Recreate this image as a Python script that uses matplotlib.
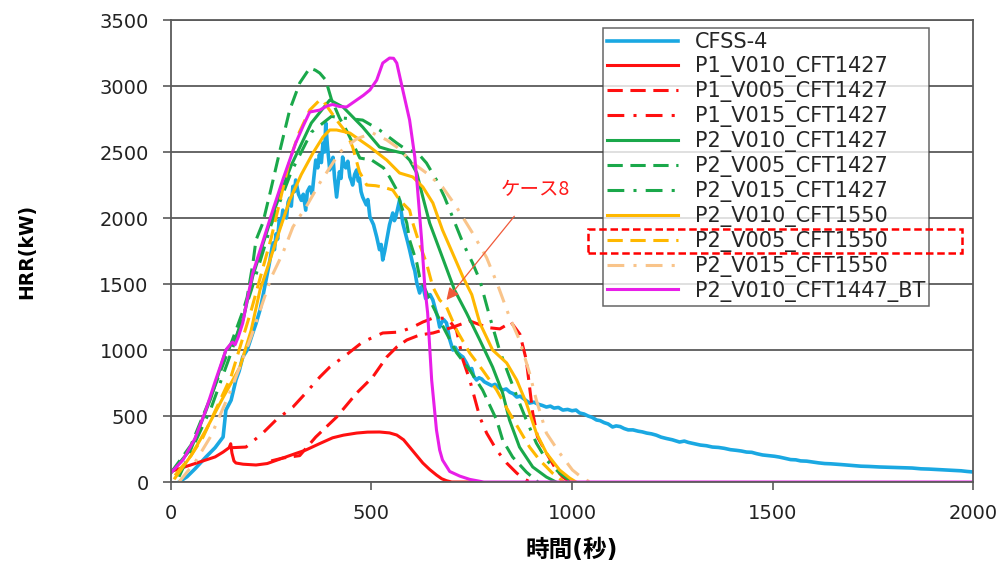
import matplotlib
matplotlib.use("Agg")
import matplotlib.pyplot as plt
from matplotlib.patches import Rectangle

plt.rcParams['font.family'] = ['DejaVu Sans', 'Noto Sans CJK JP']

# --- data (time [s], HRR [kW]) ---
cfss_t = [20, 40, 60, 87, 110, 130, 137, 150, 162, 170, 179, 190, 204, 212, 222, 230, 237, 245, 254, 258, 262,
          266, 270, 274, 279, 284, 288, 292, 296, 300, 304, 308, 311, 318, 325, 330, 336, 340, 346, 352, 356, 361,
          366, 370, 375, 379, 383, 386, 390, 396, 400, 404, 408, 413, 420, 424, 428, 432, 436, 441, 446, 450, 453,
          458, 463, 467, 470, 474, 478, 487, 491, 496, 505, 513, 520, 524, 528, 533, 538, 545, 553, 557, 560,
          566, 570, 574, 578, 585, 590, 595, 603, 608, 613, 620, 625, 630, 635, 640, 646, 653, 660, 665, 670,
          675, 680, 687, 695, 703, 709, 715, 722, 728, 737, 745, 750, 755, 762, 768, 775, 781, 787, 800, 808,
          815, 827, 836, 845, 853, 862, 871, 880, 894, 905, 915, 926, 936, 946, 955, 966, 977, 989, 1000, 1010,
          1019, 1030, 1040, 1050, 1061, 1070, 1080, 1090, 1101, 1110, 1120, 1130, 1140, 1152, 1165, 1175, 1186, 1198,
          1210, 1222, 1235, 1250, 1268, 1280, 1290, 1305, 1320, 1335, 1350, 1365, 1380, 1395, 1410, 1422, 1435, 1448,
          1460, 1475, 1490, 1505, 1517, 1530, 1545, 1558, 1570, 1585, 1599, 1615, 1630, 1645, 1660, 1672, 1684, 1700,
          1720, 1740, 1766, 1785, 1800, 1825, 1848, 1870, 1890, 1910, 1933, 1950, 1970, 1985, 2000]
cfss_v = [0, 40, 100, 189, 260, 341, 545, 620, 773, 840, 947, 1000, 1129, 1200, 1303, 1420, 1530, 1650, 1811, 1760, 1880,
          1840, 1990, 1950, 2060, 2010, 2000, 2120, 2150, 2090, 2240, 2200, 2288, 2180, 2134, 2180, 2060, 2200, 2235, 2180, 2300, 2439,
          2380, 2480, 2420, 2568, 2500, 2720, 2550, 2364, 2420, 2460, 2300, 2159, 2350, 2300, 2462, 2400, 2380, 2430, 2311, 2280, 2250,
          2330, 2364, 2280, 2300, 2200, 2159, 2100, 2140, 2008, 1950, 1856, 1760, 1800, 1682, 1750, 1833, 1950, 2038, 1980, 2000,
          2080, 2136, 2050, 1962, 1880, 1820, 1758, 1650, 1600, 1508, 1432, 1480, 1460, 1390, 1400, 1420, 1379, 1300, 1250, 1174,
          1210, 1230, 1205, 1080, 1000, 1020, 980, 960, 947, 900, 848, 860, 800, 773, 790, 780, 760, 750, 730, 740,
          720, 697, 705, 680, 670, 644, 650, 630, 598, 605, 590, 580, 568, 575, 560, 565, 545, 550, 540, 545,
          523, 515, 500, 490, 470, 465, 450, 440, 417, 425, 420, 405, 395, 395, 385, 380, 371, 365,
          355, 340, 330, 320, 303, 310, 300, 290, 280, 275, 265, 262, 255, 245, 240, 235, 227, 225,
          215, 205, 200, 195, 189, 180, 170, 168, 160, 158, 152, 145, 140, 138, 135, 132, 129, 125,
          120, 118, 114, 112, 110, 108, 106, 100, 98, 95, 91, 88, 85, 80, 76]

p1_v010_t = [0, 30, 60, 87, 110, 130, 145, 149, 152, 157, 162, 180, 212, 240, 279, 310, 336, 370, 403, 430,
             463, 490, 520, 545, 563, 580, 595, 610, 628, 645, 662, 675, 687, 700, 760]
p1_v010_v = [80, 110, 140, 167, 190, 227, 260, 290, 220, 160, 144, 135, 129, 140, 182, 215, 242, 290, 335, 355,
             371, 378, 379, 372, 356, 320, 265, 210, 144, 95, 53, 25, 10, 0, 0]

p1_v005_t = [250, 279, 321, 361, 413, 463, 503, 538, 563, 588, 620, 653, 700, 745, 790, 820, 848, 870, 886, 902,
             914, 936, 961, 977, 995]
p1_v005_v = [160, 182, 200, 341, 492, 674, 795, 947, 1023, 1076, 1114, 1129, 1170, 1220, 1170, 1160, 1210, 1120, 924, 523,
             341, 220, 91, 38, 0]

p1_v015_t = [150, 187, 229, 262, 304, 336, 371, 396, 440, 478, 528, 570, 603, 628, 653, 690, 712, 728, 745, 770,
             787, 812, 837, 862, 877, 895]
p1_v015_v = [260, 265, 371, 470, 568, 674, 795, 871, 970, 1061, 1129, 1136, 1174, 1212, 1242, 1240, 1150, 924, 773, 492,
             371, 242, 144, 68, 30, 0]

p2_v010_t = [0, 50, 100, 137, 160, 180, 204, 250, 300, 350, 396, 429, 478, 520, 545, 578, 595, 613, 628, 645,
             670, 695, 707, 737, 770, 802, 827, 844, 869, 902, 936, 960]
p2_v010_v = [70, 250, 640, 1000, 1080, 1230, 1560, 2000, 2400, 2720, 2894, 2841, 2689, 2538, 2515, 2492, 2439, 2341, 2159, 1962,
             1758, 1553, 1455, 1280, 1076, 871, 674, 470, 265, 114, 38, 0]

p2_v005_t = [0, 50, 100, 150, 180, 190, 204, 212, 229, 247, 272, 296, 321, 346, 360, 371, 386, 400, 420, 440,
             471, 500, 530, 545, 563, 570, 588, 595, 613, 620, 650, 683, 712, 745, 777, 812, 827, 852, 886, 915]
p2_v005_v = [70, 280, 650, 1050, 1300, 1400, 1650, 1833, 1962, 2189, 2515, 2818, 3023, 3136, 3120, 3098, 3045, 2900, 2760, 2650,
             2454, 2440, 2380, 2311, 2212, 2136, 1962, 1833, 1659, 1553, 1350, 1150, 980, 848, 697, 470, 318, 189, 76, 0]

p2_v015_t = [20, 100, 150, 200, 250, 300, 350, 400, 421, 478, 520, 563, 588, 613, 637, 662, 682, 702, 728, 752,
             770, 795, 819, 844, 869, 886, 911, 936, 969, 1000]
p2_v015_v = [40, 560, 980, 1450, 1950, 2350, 2650, 2770, 2760, 2742, 2667, 2568, 2515, 2500, 2417, 2288, 2159, 2008, 1811, 1659,
             1530, 1250, 1000, 795, 598, 470, 295, 167, 68, 0]

p2_v010_1550_t = [10, 50, 87, 130, 172, 200, 222, 247, 270, 296, 325, 354, 379, 396, 413, 446, 496, 538, 570, 603,
                  628, 653, 677, 702, 728, 750, 770, 802, 837, 862, 886, 911, 936, 969, 994, 1010]
p2_v010_1550_v = [30, 200, 394, 640, 871, 1150, 1455, 1682, 1900, 2136, 2330, 2492, 2614, 2667, 2667, 2644, 2538, 2439, 2341, 2311,
                  2235, 2114, 1909, 1735, 1553, 1420, 1205, 1000, 902, 773, 598, 371, 220, 91, 30, 0]

p2_v005_1550_t = [10, 50, 80, 150, 200, 250, 296, 320, 346, 371, 379, 395, 413, 438, 453, 470, 488, 510, 528, 553,
                  570, 595, 603, 620, 637, 653, 670, 687, 712, 745, 777, 812, 844, 869, 894, 919, 951, 980]
p2_v005_1550_v = [50, 200, 340, 800, 1300, 1850, 2439, 2650, 2818, 2894, 2890, 2820, 2742, 2644, 2538, 2350, 2250, 2245, 2235, 2212,
                  2136, 2060, 1962, 1800, 1659, 1477, 1379, 1326, 1152, 977, 848, 697, 523, 394, 265, 167, 68, 0]

p2_v015_1550_t = [20, 60, 100, 150, 200, 250, 279, 304, 340, 371, 400, 421, 463, 503, 538, 563, 603, 637, 677, 712,
                  752, 787, 815, 844, 869, 894, 911, 936, 969, 1001, 1026, 1045]
p2_v015_1550_v = [0, 150, 350, 700, 1100, 1550, 1735, 1932, 2100, 2265, 2400, 2500, 2600, 2644, 2591, 2538, 2417, 2341, 2235, 2083,
                  1886, 1700, 1490, 1250, 1076, 826, 621, 371, 220, 91, 30, 0]

bt_t = [0, 30, 60, 87, 110, 137, 150, 154, 160, 168, 179, 190, 204, 230, 254, 280, 311, 330, 346, 371,
        390, 403, 420, 438, 463, 480, 496, 513, 528, 545, 555, 563, 578, 595, 608, 615, 625, 633, 640, 650,
        662, 670, 677, 695, 720, 745, 780, 2000]
bt_v = [70, 167, 330, 545, 760, 1000, 1050, 1060, 1040, 1100, 1204, 1380, 1583, 1830, 2060, 2300, 2568, 2700, 2803, 2818,
        2850, 2860, 2845, 2841, 2894, 2930, 2970, 3045, 3174, 3212, 3210, 3174, 2970, 2742, 2462, 2212, 1833, 1477, 1280, 773,
        394, 242, 167, 80, 45, 20, 0, 0]

labels = ['CFSS-4', 'P1_V010_CFT1427', 'P1_V005_CFT1427', 'P1_V015_CFT1427',
          'P2_V010_CFT1427', 'P2_V005_CFT1427', 'P2_V015_CFT1427',
          'P2_V010_CFT1550', 'P2_V005_CFT1550', 'P2_V015_CFT1550', 'P2_V010_CFT1447_BT']

BLUE = '#1aa8e2'
RED = '#ff1010'
GREEN = '#1aa84a'
ORANGE = '#ffb800'
LIGHT = '#f9c48a'
MAGENTA = '#e81ee8'
DASH = (0, (5, 2.5))
DASHDOT = (0, (5.5, 3, 1, 3))

series = [
    (cfss_t, cfss_v, BLUE, '-', 2.6),
    (p1_v010_t, p1_v010_v, RED, '-', 2.2),
    (p1_v005_t, p1_v005_v, RED, DASH, 2.2),
    (p1_v015_t, p1_v015_v, RED, DASHDOT, 2.2),
    (p2_v010_t, p2_v010_v, GREEN, '-', 2.2),
    (p2_v005_t, p2_v005_v, GREEN, DASH, 2.2),
    (p2_v015_t, p2_v015_v, GREEN, DASHDOT, 2.2),
    (p2_v010_1550_t, p2_v010_1550_v, ORANGE, '-', 2.2),
    (p2_v005_1550_t, p2_v005_1550_v, ORANGE, DASH, 2.2),
    (p2_v015_1550_t, p2_v015_1550_v, LIGHT, DASHDOT, 2.2),
    (bt_t, bt_v, MAGENTA, '-', 2.2),
]

fig = plt.figure(figsize=(10.08, 5.72), dpi=100)
ax = fig.add_axes([0.1696, 0.1573, 0.7958, 0.8077])

for (t, v, c, ls, lw), lab in zip(series, labels):
    ax.plot(t, v, color=c, linestyle=ls, lw=lw, label=lab)

ax.set_xlim(0, 2000)
ax.set_ylim(0, 3500)
ax.set_xticks(range(0, 2001, 500))
ax.set_yticks(range(0, 3501, 500))
ax.yaxis.grid(True, color='#5a5a5a', lw=1.3)
ax.set_axisbelow(True)
for s in ax.spines.values():
    s.set_color('#5a5a5a')
    s.set_linewidth(1.3)
ax.tick_params(direction='out', length=6, width=1.2, color='#5a5a5a', labelsize=14, labelcolor='#222222', pad=10)

ax.set_xlabel('時間(秒)', fontsize=17, fontweight='bold')
ax.set_ylabel('HRR(kW)', fontsize=13.5, fontweight='bold')
ax.yaxis.set_label_coords(-0.168, 0.5)
ax.xaxis.set_label_coords(0.5, -0.122)

# annotation
ax.annotate('ケース8', xy=(687, 1379), xytext=(909, 2212), color='#ff1a1a', fontsize=14,
            ha='center', va='center', family=['Noto Sans CJK JP', 'DejaVu Sans'],
            arrowprops=dict(arrowstyle='-|>', color='#f05a3a', lw=0.9, mutation_scale=18,
                            shrinkA=12, shrinkB=0))

leg = ax.legend(loc='upper left', bbox_to_anchor=(603 / 1008, 1 - 28 / 572),
                bbox_transform=fig.transFigure, fontsize=15, frameon=True, fancybox=False,
                edgecolor='#404040', handlelength=3.4, handletextpad=0.8, labelspacing=0.19,
                borderpad=0.2, borderaxespad=0)
leg.get_frame().set_linewidth(1.1)
for txt in leg.get_texts():
    txt.set_color('#262626')

# red dashed highlight box around one legend entry
fig.add_artist(Rectangle((588 / 1008, 1 - 253 / 572), (962 - 588) / 1008, 24 / 572,
                         transform=fig.transFigure, fill=False, edgecolor='red',
                         linestyle=(0, (3, 1.5)), lw=1.8))

fig.savefig('out.png', dpi=100)
